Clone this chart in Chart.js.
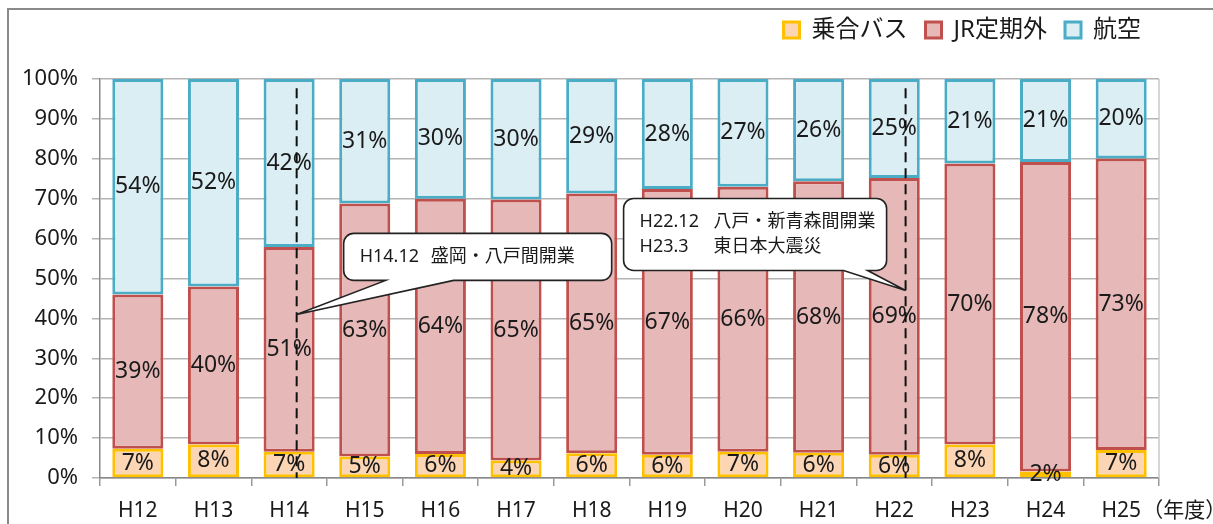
<!DOCTYPE html>
<html lang="ja">
<head>
<meta charset="utf-8">
<title>交通機関別シェア</title>
<script src="https://cdn.jsdelivr.net/npm/chart.js@4"></script>
<style>
  body { margin: 0; background: #fff; }
  #wrap { position: relative; width: 1213px; height: 524px; overflow: hidden; }
  #frame { position: absolute; left: 7px; top: 8px; width: 1300px; height: 600px; border: 2px solid #8a8a8a; }
  #shareChart { position: absolute; left: 0; top: 0; }
</style>
</head>
<body>
<div id="wrap">
  <div id="frame"></div>
  <canvas id="shareChart" width="1213" height="524"></canvas>
</div>
<script>
// shares by fiscal year (%)
const years = ["H12", "H13", "H14", "H15", "H16", "H17", "H18", "H19", "H20", "H21", "H22", "H23", "H24", "H25"];
const busShare = [7.3, 8.4, 6.6, 5.4, 6.0, 4.4, 6.2, 5.8, 6.6, 6.3, 5.8, 8.4, 1.6, 7.0];
const railShare = [38.7, 39.6, 51.3, 63.4, 64.0, 65.4, 65.1, 66.6, 66.4, 68.1, 69.4, 70.4, 77.6, 73.1];
const airShare = [54.0, 52.0, 42.1, 31.2, 30.0, 30.2, 28.7, 27.6, 27.0, 25.6, 24.8, 21.2, 20.8, 19.9];

const seriesNames = ["乗合バス", "JR定期外", "航空"];
const unitLabel = "（年度）";

// notes on the chart
const note1Lines = [["H14.12", "盛岡・八戸間開業"]];
const note2Lines = [["H22.12", "八戸・新青森間開業"], ["H23.3", "東日本大震災"]];

const FONT = "'Noto Sans', 'Noto Sans CJK JP', sans-serif";
const TEXT = "#1a1a1a";

// legend needs extra room under it
const legendMargin = {
  id: "legendMargin",
  beforeInit(chart) {
    const fit = chart.legend.fit;
    chart.legend.fit = function () {
      fit.bind(chart.legend)();
      this.height = 79;
    };
  },
};

function drawCallout(ctx, box, tipX, tipY, baseA, baseB, lines, colGap) {
  const r = 10;
  ctx.save();
  ctx.beginPath();
  ctx.moveTo(box.left + r, box.top);
  ctx.lineTo(box.right - r, box.top);
  ctx.arcTo(box.right, box.top, box.right, box.top + r, r);
  ctx.lineTo(box.right, box.bottom - r);
  ctx.arcTo(box.right, box.bottom, box.right - r, box.bottom, r);
  ctx.lineTo(baseB, box.bottom);
  ctx.lineTo(tipX, tipY);
  ctx.lineTo(baseA, box.bottom);
  ctx.lineTo(box.left + r, box.bottom);
  ctx.arcTo(box.left, box.bottom, box.left, box.bottom - r, r);
  ctx.lineTo(box.left, box.top + r);
  ctx.arcTo(box.left, box.top, box.left + r, box.top, r);
  ctx.closePath();
  ctx.fillStyle = "#fff";
  ctx.fill();
  ctx.lineWidth = 1.6;
  ctx.strokeStyle = "#222";
  ctx.stroke();

  ctx.fillStyle = TEXT;
  ctx.font = "18px " + FONT;
  ctx.textBaseline = "middle";
  ctx.textAlign = "left";
  const lineH = 25;
  const startY = (box.top + box.bottom) / 2 - ((lines.length - 1) * lineH) / 2;
  lines.forEach((ln, i) => {
    ctx.fillText(ln[0], box.left + 16, startY + i * lineH);
    ctx.fillText(ln[1], box.left + 16 + colGap, startY + i * lineH);
  });
  ctx.restore();
}

const overlays = {
  id: "overlays",
  afterDatasetsDraw(chart) {
    const { ctx, chartArea, scales } = chart;
    const x = scales.x;
    const y = scales.y;

    // plot area right edge
    ctx.save();
    ctx.strokeStyle = "#c8c8c8";
    ctx.lineWidth = 1.5;
    ctx.beginPath();
    ctx.moveTo(chartArea.right, chartArea.top);
    ctx.lineTo(chartArea.right, chartArea.bottom);
    ctx.stroke();
    ctx.restore();

    // percentage labels in each segment
    ctx.save();
    ctx.font = "23px " + FONT;
    ctx.fillStyle = TEXT;
    ctx.textAlign = "center";
    ctx.textBaseline = "middle";
    chart.data.datasets.forEach((ds, i) => {
      const meta = chart.getDatasetMeta(i);
      meta.data.forEach((bar, j) => {
        const cy = (bar.y + bar.base) / 2;
        ctx.fillText(Math.round(ds.data[j]) + "%", bar.x, cy);
      });
    });
    ctx.restore();

    // unit label after last category
    ctx.save();
    ctx.font = "21px " + FONT;
    ctx.fillStyle = TEXT;
    ctx.textBaseline = "middle";
    ctx.textAlign = "left";
    ctx.fillText(unitLabel, x.getPixelForValue(13) + 21, chartArea.bottom + 33);
    ctx.restore();

    // dashed event lines
    const ev1 = x.getPixelForValue(2.1);
    const ev2 = x.getPixelForValue(10.15);
    ctx.save();
    ctx.strokeStyle = "#111";
    ctx.lineWidth = 2;
    ctx.setLineDash([10, 6]);
    [ev1, ev2].forEach((px) => {
      ctx.beginPath();
      ctx.moveTo(px, y.getPixelForValue(97.7));
      ctx.lineTo(px, y.getPixelForValue(0));
      ctx.stroke();
    });
    ctx.restore();

    // callouts
    const t1y = y.getPixelForValue(41);
    drawCallout(ctx, { left: ev1 + 47, right: ev1 + 315, top: t1y - 81, bottom: t1y - 34 },
      ev1, t1y, ev1 + 89, ev1 + 157, note1Lines, 71);
    const t2y = y.getPixelForValue(47);
    drawCallout(ctx, { left: ev2 - 282, right: ev2 - 19, top: t2y - 92, bottom: t2y - 20 },
      ev2, t2y, ev2 - 62, ev2 - 38, note2Lines, 74);
  },
};

const ctx = document.getElementById("shareChart").getContext("2d");

new Chart(ctx, {
  type: "bar",
  data: {
    labels: years,
    datasets: [
      {
        label: seriesNames[0],
        data: busShare,
        backgroundColor: "#fcd5b5",
        borderColor: "#ffc000",
      },
      {
        label: seriesNames[1],
        data: railShare,
        backgroundColor: "#e6b9b8",
        borderColor: "#c0504d",
      },
      {
        label: seriesNames[2],
        data: airShare,
        backgroundColor: "#dbeef4",
        borderColor: "#4bacc6",
      },
    ],
  },
  options: {
    responsive: false,
    animation: false,
    layout: { padding: { left: 24, right: 54, top: 0, bottom: 0 } },
    datasets: {
      bar: {
        borderWidth: 3,
        borderSkipped: false,
        categoryPercentage: 1,
        barPercentage: 0.675,
      },
    },
    plugins: {
      legend: {
        position: "top",
        align: "end",
        labels: {
          boxWidth: 16,
          boxHeight: 16,
          padding: 18,
          color: TEXT,
          font: { family: FONT, size: 24 },
        },
      },
      tooltip: { enabled: false },
    },
    scales: {
      x: {
        stacked: true,
        grid: { display: true, drawOnChartArea: false, tickLength: 8, color: "#999", lineWidth: 1.5 },
        border: { color: "#888", width: 1.5 },
        ticks: { color: TEXT, font: { family: FONT, size: 21 }, padding: 12 },
        afterFit(scale) { scale.height = 46; },
      },
      y: {
        stacked: true,
        min: 0,
        max: 100,
        grid: { color: "#b4b4b4", lineWidth: 1.5, tickLength: 8 },
        border: { color: "#888", width: 1.5 },
        ticks: {
          stepSize: 10,
          color: TEXT,
          padding: 14,
          font: { family: FONT, size: 22 },
          callback: (v) => v + "%",
        },
        afterFit(scale) { scale.width = 76; },
      },
    },
  },
  plugins: [legendMargin, overlays],
});
</script>
</body>
</html>
